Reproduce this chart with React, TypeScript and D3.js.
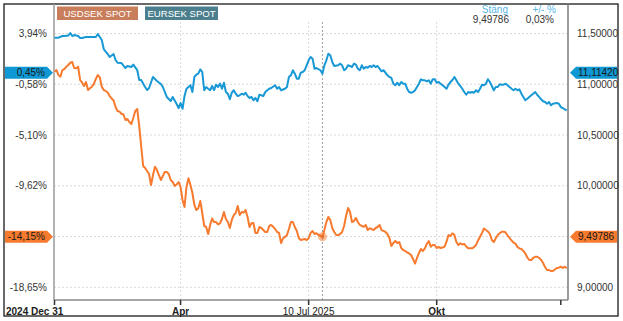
import React from "react";
import * as d3 from "d3";

// ---------- DATA ----------
// USDSEK spot, one close per trading day (day 0 = 2024 Dec 31)
const usdsekClose: number[] = [
  11.124, 11.14, 11.091, 11.074, 11.14, 11.15, 11.173, 11.19, 11.212, 11.219,
  11.16, 11.157, 11.173, 11.042, 11.017, 10.983, 11.022, 10.943, 10.96, 10.976,
  11.003, 11.052, 11.091, 11.067, 10.976, 10.943, 10.934, 10.919, 10.884, 10.86,
  10.84, 10.776, 10.737, 10.73, 10.71, 10.702, 10.648, 10.658, 10.628, 10.609,
  10.668, 10.737, 10.756, 10.589, 10.392, 10.195, 10.175, 10.146, 10.116, 10.008,
  10.106, 10.188, 10.155, 10.106, 10.057, 10.096, 10.136, 10.136, 10.116, 10.057,
  10.037, 9.998, 10.013, 10.037, 9.988, 9.86, 9.791, 9.988, 10.074, 10.008,
  9.929, 9.811, 9.761, 9.778, 9.85, 9.732, 9.604, 9.594, 9.525, 9.614,
  9.678, 9.643, 9.643, 9.619, 9.63, 9.673, 9.742, 9.673, 9.643, 9.584,
  9.663, 9.712, 9.732, 9.801, 9.712, 9.742, 9.735, 9.761, 9.693, 9.594,
  9.63, 9.633, 9.535, 9.535, 9.594, 9.584, 9.564, 9.545, 9.545, 9.604,
  9.614, 9.597, 9.574, 9.545, 9.535, 9.436, 9.483, 9.496, 9.515, 9.574,
  9.643, 9.643, 9.594, 9.555, 9.486, 9.466, 9.471, 9.476, 9.466, 9.483,
  9.535, 9.555, 9.525, 9.532, 9.515, 9.51, 9.498, 9.564, 9.643, 9.693,
  9.663, 9.584, 9.545, 9.515, 9.515, 9.525, 9.545, 9.604, 9.702, 9.781,
  9.742, 9.643, 9.653, 9.683, 9.643, 9.614, 9.604, 9.597, 9.614, 9.564,
  9.581, 9.574, 9.564, 9.584, 9.594, 9.614, 9.564, 9.555, 9.545, 9.525,
  9.486, 9.407, 9.436, 9.456, 9.436, 9.446, 9.387, 9.367, 9.358, 9.343,
  9.333, 9.318, 9.279, 9.234, 9.289, 9.338, 9.377, 9.358, 9.384, 9.427,
  9.456, 9.4, 9.417, 9.417, 9.387, 9.397, 9.387, 9.392, 9.4, 9.449,
  9.515, 9.505, 9.532, 9.515, 9.446, 9.417, 9.433, 9.422, 9.427, 9.402,
  9.384, 9.384, 9.384, 9.397, 9.417, 9.461, 9.498, 9.535, 9.579, 9.564,
  9.55, 9.525, 9.466, 9.446, 9.483, 9.515, 9.532, 9.548, 9.548, 9.54,
  9.51, 9.486, 9.461, 9.441, 9.431, 9.397, 9.384, 9.377, 9.358, 9.333,
  9.294, 9.269, 9.269, 9.289, 9.301, 9.301, 9.289, 9.272, 9.239, 9.2,
  9.17, 9.17, 9.161, 9.161, 9.175, 9.19, 9.193, 9.203, 9.19, 9.203,
  9.187,
];

// EURSEK spot as [trading day, close]
const eursekPoints: [number, number][] = [
  [0, 11.459], [2, 11.459], [4, 11.475], [5, 11.475], [7, 11.48], [8, 11.505], [9, 11.475], [10, 11.485],
  [12, 11.475], [13, 11.456], [14, 11.456], [16, 11.466], [18, 11.466], [20, 11.466], [21, 11.466], [22, 11.495],
  [24, 11.436], [25, 11.347], [27, 11.298], [28, 11.269], [30, 11.298], [31, 11.239], [32, 11.212], [34, 11.209],
  [36, 11.16], [37, 11.18], [39, 11.17], [40, 11.193], [42, 11.14], [43, 11.042], [44, 11.042], [46, 10.973],
  [47, 10.943], [48, 10.963], [50, 11.072], [52, 11.032], [54, 11.003], [55, 10.973], [57, 10.875], [59, 10.835],
  [60, 10.875], [62, 10.806], [63, 10.766], [64, 10.815], [65, 10.759], [66, 10.884], [67, 10.956], [69, 10.99],
  [70, 10.924], [71, 11.072], [72, 11.094], [73, 11.104], [74, 11.147], [75, 11.121], [76, 10.941], [77, 10.973],
  [78, 10.956], [79, 10.941], [80, 10.983], [81, 10.943], [82, 10.996], [83, 10.973], [84, 11.006], [85, 10.956],
  [86, 11.015], [87, 10.924], [88, 10.907], [89, 10.852], [90, 10.917], [91, 10.941], [92, 10.907], [93, 10.884],
  [94, 10.891], [95, 10.907], [96, 10.897], [97, 10.917], [98, 10.884], [99, 10.865], [100, 10.875], [101, 10.842],
  [102, 10.865], [103, 10.832], [104, 10.897], [105, 10.891], [106, 10.884], [107, 10.924], [108, 10.941], [109, 10.956],
  [110, 10.963], [112, 10.99], [113, 10.956], [114, 10.973], [115, 10.941], [117, 10.956], [118, 10.973], [119, 11.072],
  [120, 11.088], [121, 11.138], [122, 11.104], [123, 11.055], [124, 11.055], [125, 11.114], [126, 11.121], [127, 11.138],
  [128, 11.187], [129, 11.236], [130, 11.269], [131, 11.252], [132, 11.153], [133, 11.16], [135, 11.138], [136, 11.104],
  [137, 11.187], [138, 11.236], [139, 11.301], [140, 11.285], [141, 11.219], [142, 11.18], [144, 11.187], [145, 11.203],
  [146, 11.187], [147, 11.138], [148, 11.153], [149, 11.187], [150, 11.18], [151, 11.17], [152, 11.203], [153, 11.193],
  [154, 11.153], [155, 11.138], [156, 11.187], [157, 11.153], [158, 11.17], [159, 11.163], [160, 11.18], [161, 11.17],
  [162, 11.187], [163, 11.17], [164, 11.18], [165, 11.153], [166, 11.128], [167, 11.138], [168, 11.114], [169, 11.088],
  [170, 11.072], [171, 11.062], [172, 11.006], [173, 10.99], [174, 11.015], [175, 10.99], [176, 11.022], [177, 11.006],
  [178, 11.006], [179, 10.956], [180, 10.924], [181, 10.917], [182, 10.924], [183, 10.941], [184, 10.973], [185, 11.006],
  [186, 11.049], [187, 11.039], [188, 11.039], [189, 11.029], [190, 11.039], [191, 11.006], [192, 11.049], [193, 11.049],
  [194, 11.015], [195, 11.022], [196, 11.006], [197, 10.99], [199, 10.956], [200, 10.996], [201, 11.022], [202, 11.042],
  [203, 11.072], [204, 11.039], [205, 11.006], [206, 10.983], [207, 10.956], [208, 10.924], [209, 10.897], [210, 10.924],
  [211, 10.917], [212, 10.924], [213, 10.917], [214, 10.941], [215, 10.924], [216, 10.956], [217, 10.996], [218, 10.99],
  [219, 11.006], [220, 11.049], [221, 11.022], [222, 10.983], [223, 10.941], [224, 10.973], [225, 10.973], [226, 11.0],
  [227, 10.996], [228, 10.996], [229, 11.006], [230, 10.99], [231, 10.973], [232, 10.956], [233, 10.941], [234, 10.956],
  [235, 10.941], [236, 10.95], [237, 10.907], [238, 10.875], [239, 10.842], [240, 10.858], [241, 10.875], [242, 10.891],
  [243, 10.907], [244, 10.924], [245, 10.897], [246, 10.875], [247, 10.852], [248, 10.832], [249, 10.825], [250, 10.809],
  [251, 10.825], [252, 10.793], [253, 10.809], [255, 10.815], [256, 10.809], [257, 10.776], [258, 10.766], [259, 10.753],
  [260, 10.744],
];

const yTickValues = [11.5, 11.0, 10.5, 10.0, 9.5, 9.0];
const leftTickLabels: (string | null)[] = ["3,94%", "-0,58%", "-5,10%", "-9,62%", null, "-18,65%"];
const rightTickShown = [true, true, true, true, false, true];

const xTickDays = [0, 64, 129, 194, 257];
const xTickLabels = ["2024 Dec 31", "Apr", "10 Jul 2025", "Okt", ""];
const xTickBold = [true, true, false, true, false];
const xGridDays = [64, 129, 194];

const seriesNames = ["USDSEK SPOT", "EURSEK SPOT"];
const lastValues = [9.49786, 11.1142];
const lastPercents = ["-14,15%", "0,45%"];
const crosshairDay = 136;
const headerLabels = ["Stäng", "+/- %"];
const headerValues = ["9,49786", "0,03%"];

// ---------- STYLE ----------
const W = 623;
const H = 321;
const FONT = "Arial, 'Liberation Sans', sans-serif";
const ORANGE = "#f77a2e";
const BLUE = "#1898d5";
const ORANGE_TAG = "#f77a2e";
const BLUE_TAG = "#0f98d3";
const LEGEND_COLORS = ["#c97e5b", "#4c7f8e"];

export default function App() {
  const left = 54;
  const right = 568;
  const top = 4;
  const bottom = 300;

  const x = d3.scaleLinear().domain([0, 260]).range([54.5, 566.7]);
  const y = d3.scaleLinear().domain([9.0, 11.5]).range([287.3, 33.5]);
  const fmt = (v: number) => d3.format(".5f")(v).replace(".", ",");

  const usdLine = d3
    .line<number>()
    .x((_, i) => x(i))
    .y((d) => y(d))(usdsekClose) as string;
  const eurLine = d3
    .line<[number, number]>()
    .x((d) => x(d[0]))
    .y((d) => y(d[1]))(eursekPoints) as string;

  const tagColors = [ORANGE_TAG, BLUE_TAG];

  return (
    <svg
      width={W}
      height={H}
      style={{ position: "fixed", left: 0, top: 0, background: "#fff" }}
      fontFamily={FONT}
    >
      <rect x={0} y={0} width={W} height={H} fill="#fff" />
      {/* outer border */}
      <rect x={4} y={4} width={614} height={312} fill="none" stroke="#1a1a1a" strokeWidth={1.3} />

      {/* horizontal grid */}
      {yTickValues.map((v, i) => (
        <line
          key={"hg" + i}
          x1={left}
          x2={right}
          y1={y(v)}
          y2={y(v)}
          stroke="#d8d8d8"
          strokeWidth={1}
          strokeDasharray="2,2"
        />
      ))}
      {/* vertical grid */}
      {xGridDays.map((dd, i) => (
        <line
          key={"vg" + i}
          x1={x(dd)}
          x2={x(dd)}
          y1={22}
          y2={bottom}
          stroke="#d8d8d8"
          strokeWidth={1}
          strokeDasharray="2,2"
        />
      ))}

      {/* crosshair */}
      <line
        x1={x(crosshairDay)}
        x2={x(crosshairDay)}
        y1={22}
        y2={bottom}
        stroke="#9a9a9a"
        strokeWidth={1}
        strokeDasharray="2,2"
      />

      {/* axes */}
      <line x1={left} x2={left} y1={top} y2={bottom} stroke="#9a9a9a" strokeWidth={1.5} />
      <line x1={right} x2={right} y1={top} y2={bottom} stroke="#7a7a7a" strokeWidth={1.5} />
      <line x1={left} x2={right} y1={bottom} y2={bottom} stroke="#8a8a8a" strokeWidth={1.5} />

      {/* x ticks */}
      {xTickDays.map((dd, i) => (
        <line
          key={"xt" + i}
          x1={x(dd)}
          x2={x(dd)}
          y1={bottom}
          y2={bottom + 5}
          stroke="#333"
          strokeWidth={1.5}
        />
      ))}
      {xTickDays.map((dd, i) =>
        xTickLabels[i] ? (
          <text
            key={"xl" + i}
            x={i === 0 ? 6 : x(dd)}
            y={314.5}
            fontSize={10}
            fontWeight={xTickBold[i] ? "bold" : "normal"}
            textAnchor={i === 0 ? "start" : "middle"}
            fill="#222"
          >
            {xTickLabels[i]}
          </text>
        ) : null
      )}

      {/* y tick labels */}
      {yTickValues.map((v, i) =>
        leftTickLabels[i] ? (
          <text key={"yl" + i} x={47} y={y(v) + 3.5} fontSize={10} textAnchor="end" fill="#333">
            {leftTickLabels[i]}
          </text>
        ) : null
      )}
      {yTickValues.map((v, i) =>
        rightTickShown[i] ? (
          <text key={"yr" + i} x={577} y={y(v) + 3.5} fontSize={10} textAnchor="start" fill="#333">
            {fmt(v)}
          </text>
        ) : null
      )}

      {/* lines */}
      <path d={eurLine} fill="none" stroke={BLUE} strokeWidth={2} strokeLinejoin="round" />
      <path d={usdLine} fill="none" stroke={ORANGE} strokeWidth={2} strokeLinejoin="round" />

      {/* crosshair marker */}
      <circle
        cx={x(crosshairDay)}
        cy={y(usdsekClose[crosshairDay])}
        r={4.5}
        fill={ORANGE}
        fillOpacity={0.5}
      />
      <circle cx={x(crosshairDay)} cy={y(usdsekClose[crosshairDay])} r={2} fill="#e06a2a" fillOpacity={0.7} />

      {/* value tags */}
      {lastValues.map((v, i) => {
        const cy = y(v);
        const h = 12;
        const leftTag = `M5,${cy - h / 2} L47,${cy - h / 2} L53,${cy} L47,${cy + h / 2} L5,${cy + h / 2} Z`;
        const rightTag = `M570,${cy} L576,${cy - h / 2} L617,${cy - h / 2} L617,${cy + h / 2} L576,${cy + h / 2} Z`;
        return (
          <g key={"tag" + i}>
            <path d={leftTag} fill={tagColors[i]} />
            <text x={45} y={cy + 3.6} fontSize={10} textAnchor="end" fill="#1a1a1a">
              {lastPercents[i]}
            </text>
            <path d={rightTag} fill={tagColors[i]} />
            <text x={578} y={cy + 3.6} fontSize={10} textAnchor="start" fill="#1a1a1a">
              {fmt(v)}
            </text>
          </g>
        );
      })}

      {/* legend */}
      {seriesNames.map((name, i) => {
        const bx = i === 0 ? 57 : 145;
        const bw = i === 0 ? 81 : 73;
        return (
          <g key={"lg" + i}>
            <rect x={bx} y={6.5} width={bw} height={13.5} fill={LEGEND_COLORS[i]} />
            <text x={bx + bw / 2} y={17} fontSize={9.6} textAnchor="middle" fill="#fff">
              {name}
            </text>
          </g>
        );
      })}

      {/* header */}
      <text x={508} y={13} fontSize={10} textAnchor="end" fill="#5ab6e4">
        {headerLabels[0]}
      </text>
      <text x={509} y={22.5} fontSize={10} textAnchor="end" fill="#333">
        {headerValues[0]}
      </text>
      <text x={556} y={13} fontSize={10} textAnchor="end" fill="#5ab6e4">
        {headerLabels[1]}
      </text>
      <text x={554} y={22.5} fontSize={10} textAnchor="end" fill="#333">
        {headerValues[1]}
      </text>
    </svg>
  );
}
